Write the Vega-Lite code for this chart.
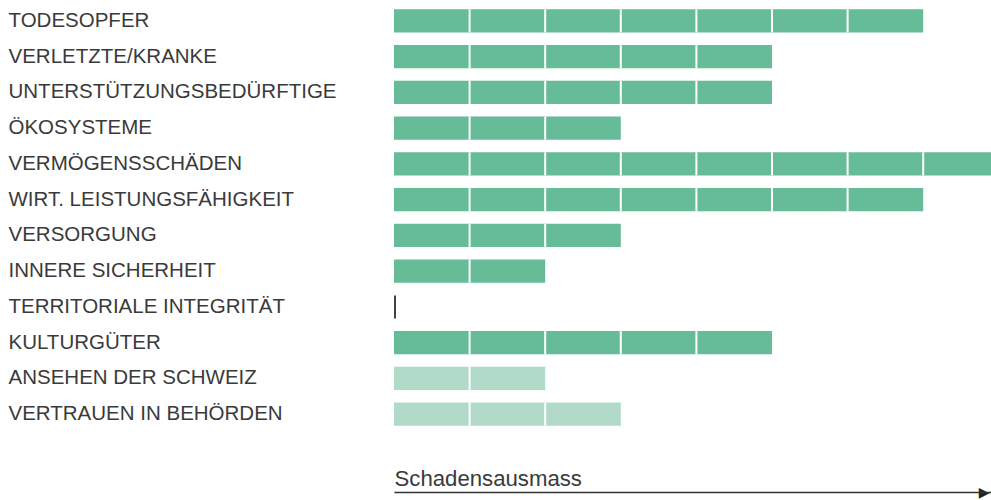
{
  "$schema": "https://vega.github.io/schema/vega-lite/v6.json",
  "width": 597,
  "height": 429,
  "autosize": {"type": "none"},
  "padding": {"left": 394, "top": 3, "right": 0, "bottom": 68},
  "background": "white",
  "config": {"view": {"stroke": null}, "font": "Liberation Sans"},
  "data": {
    "values": [
      {"cat": "TODESOPFER", "start": 0, "end": 1, "tone": "dark"},
      {"cat": "TODESOPFER", "start": 1, "end": 2, "tone": "dark"},
      {"cat": "TODESOPFER", "start": 2, "end": 3, "tone": "dark"},
      {"cat": "TODESOPFER", "start": 3, "end": 4, "tone": "dark"},
      {"cat": "TODESOPFER", "start": 4, "end": 5, "tone": "dark"},
      {"cat": "TODESOPFER", "start": 5, "end": 6, "tone": "dark"},
      {"cat": "TODESOPFER", "start": 6, "end": 7, "tone": "dark"},
      {"cat": "VERLETZTE/KRANKE", "start": 0, "end": 1, "tone": "dark"},
      {"cat": "VERLETZTE/KRANKE", "start": 1, "end": 2, "tone": "dark"},
      {"cat": "VERLETZTE/KRANKE", "start": 2, "end": 3, "tone": "dark"},
      {"cat": "VERLETZTE/KRANKE", "start": 3, "end": 4, "tone": "dark"},
      {"cat": "VERLETZTE/KRANKE", "start": 4, "end": 5, "tone": "dark"},
      {"cat": "UNTERSTÜTZUNGSBEDÜRFTIGE", "start": 0, "end": 1, "tone": "dark"},
      {"cat": "UNTERSTÜTZUNGSBEDÜRFTIGE", "start": 1, "end": 2, "tone": "dark"},
      {"cat": "UNTERSTÜTZUNGSBEDÜRFTIGE", "start": 2, "end": 3, "tone": "dark"},
      {"cat": "UNTERSTÜTZUNGSBEDÜRFTIGE", "start": 3, "end": 4, "tone": "dark"},
      {"cat": "UNTERSTÜTZUNGSBEDÜRFTIGE", "start": 4, "end": 5, "tone": "dark"},
      {"cat": "ÖKOSYSTEME", "start": 0, "end": 1, "tone": "dark"},
      {"cat": "ÖKOSYSTEME", "start": 1, "end": 2, "tone": "dark"},
      {"cat": "ÖKOSYSTEME", "start": 2, "end": 3, "tone": "dark"},
      {"cat": "VERMÖGENSSCHÄDEN", "start": 0, "end": 1, "tone": "dark"},
      {"cat": "VERMÖGENSSCHÄDEN", "start": 1, "end": 2, "tone": "dark"},
      {"cat": "VERMÖGENSSCHÄDEN", "start": 2, "end": 3, "tone": "dark"},
      {"cat": "VERMÖGENSSCHÄDEN", "start": 3, "end": 4, "tone": "dark"},
      {"cat": "VERMÖGENSSCHÄDEN", "start": 4, "end": 5, "tone": "dark"},
      {"cat": "VERMÖGENSSCHÄDEN", "start": 5, "end": 6, "tone": "dark"},
      {"cat": "VERMÖGENSSCHÄDEN", "start": 6, "end": 7, "tone": "dark"},
      {"cat": "VERMÖGENSSCHÄDEN", "start": 7, "end": 8, "tone": "dark"},
      {"cat": "WIRT. LEISTUNGSFÄHIGKEIT", "start": 0, "end": 1, "tone": "dark"},
      {"cat": "WIRT. LEISTUNGSFÄHIGKEIT", "start": 1, "end": 2, "tone": "dark"},
      {"cat": "WIRT. LEISTUNGSFÄHIGKEIT", "start": 2, "end": 3, "tone": "dark"},
      {"cat": "WIRT. LEISTUNGSFÄHIGKEIT", "start": 3, "end": 4, "tone": "dark"},
      {"cat": "WIRT. LEISTUNGSFÄHIGKEIT", "start": 4, "end": 5, "tone": "dark"},
      {"cat": "WIRT. LEISTUNGSFÄHIGKEIT", "start": 5, "end": 6, "tone": "dark"},
      {"cat": "WIRT. LEISTUNGSFÄHIGKEIT", "start": 6, "end": 7, "tone": "dark"},
      {"cat": "VERSORGUNG", "start": 0, "end": 1, "tone": "dark"},
      {"cat": "VERSORGUNG", "start": 1, "end": 2, "tone": "dark"},
      {"cat": "VERSORGUNG", "start": 2, "end": 3, "tone": "dark"},
      {"cat": "INNERE SICHERHEIT", "start": 0, "end": 1, "tone": "dark"},
      {"cat": "INNERE SICHERHEIT", "start": 1, "end": 2, "tone": "dark"},
      {"cat": "TERRITORIALE INTEGRITÄT", "start": 0, "end": 0, "tone": "none"},
      {"cat": "KULTURGÜTER", "start": 0, "end": 1, "tone": "dark"},
      {"cat": "KULTURGÜTER", "start": 1, "end": 2, "tone": "dark"},
      {"cat": "KULTURGÜTER", "start": 2, "end": 3, "tone": "dark"},
      {"cat": "KULTURGÜTER", "start": 3, "end": 4, "tone": "dark"},
      {"cat": "KULTURGÜTER", "start": 4, "end": 5, "tone": "dark"},
      {"cat": "ANSEHEN DER SCHWEIZ", "start": 0, "end": 1, "tone": "light"},
      {"cat": "ANSEHEN DER SCHWEIZ", "start": 1, "end": 2, "tone": "light"},
      {"cat": "VERTRAUEN IN BEHÖRDEN", "start": 0, "end": 1, "tone": "light"},
      {"cat": "VERTRAUEN IN BEHÖRDEN", "start": 1, "end": 2, "tone": "light"},
      {"cat": "VERTRAUEN IN BEHÖRDEN", "start": 2, "end": 3, "tone": "light"}
    ]
  },
  "encoding": {
    "y": {
      "field": "cat",
      "type": "nominal",
      "scale": {
        "domain": ["TODESOPFER", "VERLETZTE/KRANKE", "UNTERSTÜTZUNGSBEDÜRFTIGE", "ÖKOSYSTEME", "VERMÖGENSSCHÄDEN", "WIRT. LEISTUNGSFÄHIGKEIT", "VERSORGUNG", "INNERE SICHERHEIT", "TERRITORIALE INTEGRITÄT", "KULTURGÜTER", "ANSEHEN DER SCHWEIZ", "VERTRAUEN IN BEHÖRDEN"],
        "paddingInner": 0.356,
        "paddingOuter": 0.178
      },
      "axis": {
        "title": null,
        "domain": false,
        "ticks": false,
        "labelAlign": "left",
        "labelPadding": 386,
        "labelFontSize": 20.5,
        "labelFont": "Liberation Sans",
        "labelColor": "#3a3a3a",
        "labelLimit": 400
      }
    }
  },
  "layer": [
    {
      "mark": {"type": "bar", "clip": true},
      "encoding": {
        "x": {
          "field": "start",
          "type": "quantitative",
          "scale": {"domain": [0, 7.897], "nice": false, "zero": true},
          "axis": {
            "title": "Schadensausmass",
            "titleFont": "Liberation Sans",
            "titleFontSize": 22.2,
            "titleFontWeight": "normal",
            "titleColor": "#3a3a3a",
            "titleAnchor": "start",
            "titleAlign": "left",
            "titleX": 0,
            "titleY": -7,
            "titleBaseline": "alphabetic",
            "offset": 60,
            "grid": false,
            "ticks": false,
            "domainColor": "#333333",
            "domainWidth": 1.5,
            "values": [7.87],
            "labelExpr": "'▶'",
            "labelFont": "DejaVu Sans",
            "labelFontSize": 14,
            "labelColor": "#222222",
            "labelAlign": "right",
            "labelBaseline": "middle",
            "labelPadding": 0,
            "labelFlush": false,
            "labelBound": false,
            "labelOverlap": false
          }
        },
        "x2": {"field": "end"},
        "color": {
          "field": "tone",
          "type": "nominal",
          "scale": {"domain": ["dark", "light", "none"], "range": ["#66bc98", "#b1dbc8", "#ffffff"]},
          "legend": null
        }
      }
    },
    {
      "transform": [{"filter": "datum.start > 0"}],
      "mark": {"type": "tick", "color": "white", "thickness": 2, "size": 23, "opacity": 1},
      "encoding": {
        "x": {"field": "start", "type": "quantitative"}
      }
    },
    {
      "transform": [{"filter": "datum.end == 0"}],
      "mark": {"type": "tick", "color": "#222222", "thickness": 1.7, "size": 23, "opacity": 1, "xOffset": 1},
      "encoding": {
        "x": {"field": "start", "type": "quantitative"}
      }
    }
  ]
}
